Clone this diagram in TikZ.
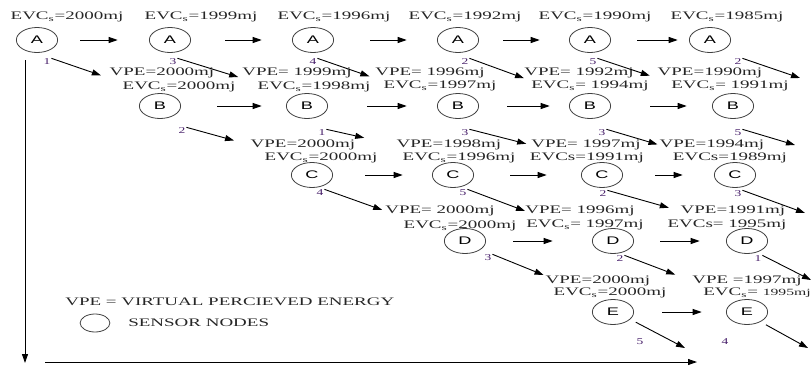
\documentclass[tikz,border=0pt]{standalone}
\usepackage{fontspec}
\setmainfont{Liberation Serif}
\newfontfamily\nodefont{Liberation Sans}
\usepackage{tikz}
\usetikzlibrary{arrows.meta}
\definecolor{numpurple}{RGB}{70,30,105}

\begin{document}
\begin{tikzpicture}[x=1pt,y=-1pt,
  s/.style={draw=black!75,line width=0.8pt,circle,minimum size=25pt,inner sep=0pt,xscale=1.65,font=\nodefont\fontsize{11}{12}\selectfont},
  t/.style={inner sep=0pt,xscale=1.65,font=\fontsize{11.5}{13}\selectfont,text=black!85},
  n/.style={inner sep=0.5pt,xscale=1.5,font=\fontsize{9}{10}\selectfont,text=numpurple},
  f/.style={-{Triangle[length=9pt,width=6pt]},line width=0.9pt}]
\useasboundingbox (0,0) rectangle (812,365);
% sensor nodes
\node[s] (a1) at (37,40) {A}; \node[s] (a2) at (170,40) {A}; \node[s] (a3) at (313,40) {A};
\node[s] (a4) at (458,40) {A}; \node[s] (a5) at (590,40) {A}; \node[s] (a6) at (710,40) {A};
\node[s] (b1) at (160,106) {B}; \node[s] (b2) at (307,106) {B}; \node[s] (b3) at (458,106) {B};
\node[s] (b4) at (590,106) {B}; \node[s] (b5) at (733,106) {B};
\node[s] (c1) at (312,175) {C}; \node[s] (c2) at (453,175) {C}; \node[s] (c3) at (602,175) {C};
\node[s] (c4) at (735,175) {C};
\node[s] (d1) at (465,241) {D}; \node[s] (d2) at (613,241) {D}; \node[s] (d3) at (747,241) {D};
\node[s] (e1) at (613,312) {E}; \node[s] (e2) at (747,312) {E};
% energy labels
\node[t] (ea1) at (67,17) {EVC\textsubscript{s}=2000mj}; \node[t] (ea2) at (201,17) {EVC\textsubscript{s}=1999mj};
\node[t] (ea3) at (334,17) {EVC\textsubscript{s}=1996mj}; \node[t] (ea4) at (465,17) {EVC\textsubscript{s}=1992mj};
\node[t] (ea5) at (595,17) {EVC\textsubscript{s}=1990mj}; \node[t] (ea6) at (727,17) {EVC\textsubscript{s}=1985mj};
\node[t] (vb1) at (162,73) {VPE=2000mj}; \node[t] (eb1) at (179,87) {EVC\textsubscript{s}=2000mj};
\node[t] (vb2) at (297,73) {VPE= 1999mj}; \node[t] (eb2) at (314,87) {EVC\textsubscript{s}=1998mj};
\node[t] (vb3) at (430,73) {VPE= 1996mj}; \node[t] (eb3) at (440,86) {EVC\textsubscript{s}=1997mj};
\node[t] (vb4) at (579,73) {VPE= 1992mj}; \node[t] (eb4) at (590,86) {EVC\textsubscript{s}= 1994mj};
\node[t] (vb5) at (710,73) {VPE=1990mj}; \node[t] (eb5) at (730,86) {EVC\textsubscript{s}= 1991mj};
\node[t] (vc1) at (303,145) {VPE=2000mj}; \node[t] (ec1) at (321,158) {EVC\textsubscript{s}=2000mj};
\node[t] (vc2) at (449,145) {VPE=1998mj}; \node[t] (ec2) at (459,158) {EVC\textsubscript{s}=1996mj};
\node[t] (vc3) at (586,145) {VPE= 1997mj}; \node[t] (ec3) at (587,158) {EVCs=1991mj};
\node[t] (vc4) at (712,145) {VPE=1994mj}; \node[t] (ec4) at (730,158) {EVCs=1989mj};
\node[t] (vd1) at (440,211) {VPE= 2000mj}; \node[t] (ed1) at (460,226) {EVC\textsubscript{s}=2000mj};
\node[t] (vd2) at (580,211) {VPE= 1996mj}; \node[t] (ed2) at (585,225) {EVC\textsubscript{s}= 1997mj};
\node[t] (vd3) at (733,211) {VPE=1991mj}; \node[t] (ed3) at (727,225) {EVCs= 1995mj};
\node[t] (ve1) at (598,281) {VPE=2000mj}; \node[t] (ee1) at (610,293) {EVC\textsubscript{s}=2000mj};
\node[t] (ve2) at (747,281) {VPE =1997mj}; \node[t] (ee2) at (757,293) {EVC\textsubscript{s}= {\fontsize{9.5}{11}\selectfont 1995mj}};
% hop counts
\node[n] (na1) at (47,62) {1}; \node[n] (na2) at (173,62) {3}; \node[n] (na3) at (313,62) {4};
\node[n] (na4) at (465,62) {2}; \node[n] (na5) at (593,62) {5}; \node[n] (na6) at (738,62) {2};
\node[n] (nb1) at (182,131) {2}; \node[n] (nb2) at (322,133) {1}; \node[n] (nb3) at (465,133) {3};
\node[n] (nb4) at (602,133) {3}; \node[n] (nb5) at (738,133) {5};
\node[n] (nc1) at (320,193) {4}; \node[n] (nc2) at (463,193) {5}; \node[n] (nc3) at (603,194) {2};
\node[n] (nc4) at (738,194) {3};
\node[n] (nd1) at (488,258) {3}; \node[n] (nd2) at (620,259) {2}; \node[n] (nd3) at (758,259) {1};
\node[n] (ne1) at (640,342) {5}; \node[n] (ne2) at (725,342) {4};
% free ends
\coordinate (ha6) at (800,78); \coordinate (hb5) at (795,145); \coordinate (hc4) at (805,213);
\coordinate (hd3) at (811,280); \coordinate (he1) at (685,348); \coordinate (he2) at (808,348);
\coordinate (ttop) at (25,60); \coordinate (tbot) at (25,363);
\coordinate (sleft) at (45,362); \coordinate (sright) at (697,362);
% forward hops
\draw[f,shorten <=22pt,shorten >=31pt] (a1) -- (a2); \draw[f,shorten <=34pt,shorten >=30pt] (a2) -- (a3);
\draw[f,shorten <=36pt,shorten >=30pt] (a3) -- (a4); \draw[f,shorten <=24pt,shorten >=29pt] (a4) -- (a5);
\draw[f,shorten <=26pt,shorten >=11pt] (a5) -- (a6);
\draw[f,shorten <=36pt,shorten >=24pt] (b1) -- (b2); \draw[f,shorten <=39pt,shorten >=30pt] (b2) -- (b3);
\draw[f,shorten <=28pt,shorten >=19pt] (b3) -- (b4); \draw[f,shorten <=39pt,shorten >=25pt] (b4) -- (b5);
\draw[f,shorten <=32pt,shorten >=29pt] (c1) -- (c2); \draw[f,shorten <=36pt,shorten >=34pt] (c2) -- (c3);
\draw[f,shorten <=32pt,shorten >=31pt] (c3) -- (c4);
\draw[f,shorten <=27pt,shorten >=39pt] (d1) -- (d2); \draw[f,shorten <=26pt,shorten >=26pt] (d2) -- (d3);
\draw[f,shorten <=28pt,shorten >=24pt] (e1) -- (e2);
% hops to next node
\draw[f,shorten >=9pt] (na1.north east) -- (vb1.south west); \draw[f,shorten >=4pt] (na2.north east) -- (vb2.south west);
\draw[f,shorten >=6pt] (na3.north east) -- (vb3.south west); \draw[f] (na4.north east) -- (vb4.south west);
\draw[f,shorten >=8pt] (na5.north east) -- (vb5.south west); \draw[f] (na6.north east) -- (ha6);
\draw[f,shorten >=17pt] (nb1.north east) -- (vc1.west); \draw[f,shorten >=33pt] (nb2.north east) -- (vc2.west);
\draw[f,shorten >=5pt] (nb3.north east) -- (vc3.west); \draw[f,shorten >=2pt] (nb4.north east) -- (vc4.west);
\draw[f] (nb5.north east) -- (hb5);
\draw[f,shorten >=3pt] (nc1.north east) -- (vd1.west); \draw[f] (nc2.north east) -- (vd2.west);
\draw[f,shorten >=12pt] (nc3.north east) -- (vd3.west); \draw[f] (nc4.north east) -- (hc4);
\draw[f,shorten >=2pt] (nd1.north east) -- (ve1.north west); \draw[f,shorten >=18pt] (nd2.north east) -- (ve2.west);
\draw[f] (nd3.north east) -- (hd3);
\draw[f,shorten <=6pt] (e1.-35) -- (he1); \draw[f,shorten <=6pt] (e2.-50) -- (he2);
% axes
\draw[f] (ttop) -- (tbot); \draw[f] (sleft) -- (sright);
% legend
\node[t,anchor=west] (legvpe) at (65,302) {VPE = VIRTUAL PERCIEVED ENERGY};
\node[s,minimum size=18pt] (legs) at (95,323) {};
\node[t,anchor=west] (legtxt) at (128,323) {SENSOR NODES};
\end{tikzpicture}
\end{document}
